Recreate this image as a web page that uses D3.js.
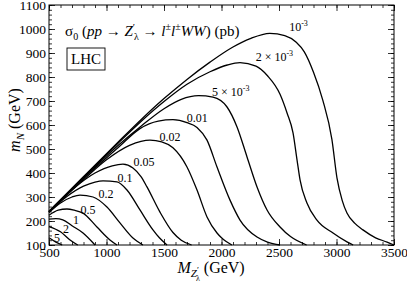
<!DOCTYPE html>
<meta charset="utf-8">
<script src="https://d3js.org/d3.v7.min.js"></script>
<style>
  body { margin: 0; background: #fff; }
</style>
<div id="chart"></div>
<script>

// contour curves, [M_Z' (GeV), m_N (GeV)]
var c0001 = [[500,240],[800,385],[1100,528],[1300,622],[1500,710],[1700,790],[1900,862],[2100,925],[2250,960],[2420,982],[2550,972],[2650,945],[2720,905],[2800,820],[2880,705],[2960,540],[3004,380],[3050,285],[3091,233],[3160,190],[3230,163],[3340,130],[3440,112],[3500,100]];
var c0002 = [[500,240],[800,383],[1100,524],[1300,615],[1500,698],[1700,770],[1900,822],[2050,850],[2161,860],[2300,845],[2400,805],[2509,728],[2570,650],[2622,567],[2657,454],[2683,371],[2743,275],[2830,204],[2970,150],[3091,113],[3145,100]];
var c0005 = [[500,240],[800,380],[1100,515],[1300,595],[1500,668],[1650,707],[1800,722],[1926,716],[2048,675],[2135,592],[2222,467],[2309,342],[2396,246],[2509,175],[2600,135],[2740,100]];
var c001 = [[500,239],[800,378],[1100,505],[1291,585],[1450,616],[1578,622],[1700,610],[1787,590],[1874,537],[1961,425],[2074,287],[2161,204],[2309,133],[2400,112],[2509,100]];
var c002 = [[500,238],[800,372],[1000,455],[1200,515],[1300,532],[1378,537],[1480,530],[1578,505],[1700,425],[1787,329],[1874,217],[1961,150],[2000,130],[2090,100]];
var c005 = [[500,238],[700,330],[900,400],[1050,430],[1143,437],[1230,421],[1300,385],[1352,342],[1465,237],[1578,152],[1650,120],[1740,100]];
var c01 = [[500,237],[650,300],[800,345],[900,362],[970,367],[1091,363],[1178,329],[1291,246],[1404,163],[1460,130],[1526,100]];
var c02 = [[500,235],[600,275],[700,300],[770,308],[883,300],[1004,258],[1117,192],[1230,129],[1317,100]];
var c05 = [[500,224],[580,245],[656,250],[720,245],[796,233],[917,175],[1030,121],[1091,100]];
var c1 = [[500,208],[560,210],[620,205],[700,180],[796,150],[900,100]];
var c2 = [[500,177],[600,155],[680,122],[750,100]];
var c5 = [[500,130],[560,112],[615,100]];

var curves = [c0001, c0002, c0005, c001, c002, c005, c01, c02, c05, c1, c2, c5];

// curve labels: text, exponent, baseline anchor [M, m]
var labelText = ["10", "2 \u00d7 10", "5 \u00d7 10", "0.01", "0.02", "0.05", "0.1", "0.2", "0.5", "1", "2", "5"];
var labelExp = ["-3", "-3", "-3", "", "", "", "", "", "", "", "", ""];
var labelPos = [[2670,990],[2460,865],[2080,722],[1790,612],[1552,533],[1326,429],[1161,362],[996,296],[839,229],[735,187],[648,150],[570,112]];

var xTicks = [500, 1000, 1500, 2000, 2500, 3000, 3500];
var yTicks = [100, 200, 300, 400, 500, 600, 700, 800, 900, 1000, 1100];

var serif = "'Liberation Serif', 'Times New Roman', Times, serif";

var margin = {top: 5, right: 13, bottom: 39, left: 49},
    width = 407 - margin.left - margin.right,
    height = 284 - margin.top - margin.bottom;

var svg = d3.select("#chart")
  .append("svg")
    .attr("width", 407)
    .attr("height", 284)
    .style("font-family", serif)
  .append("g")
    .attr("transform", "translate(" + margin.left + "," + margin.top + ")");

var x = d3.scaleLinear().domain([500, 3500]).range([0, width]);
var y = d3.scaleLinear().domain([100, 1100]).range([height, 0]);

var xMinor = d3.range(500, 3501, 100);
var yMinor = d3.range(100, 1101, 20);

// minor ticks on all sides
svg.append("g").attr("transform", "translate(0," + height + ")")
  .call(d3.axisBottom(x).tickValues(xMinor).tickSize(-3).tickFormat(""));
svg.append("g")
  .call(d3.axisTop(x).tickValues(xMinor).tickSize(-3).tickFormat(""));
svg.append("g")
  .call(d3.axisLeft(y).tickValues(yMinor).tickSize(-3).tickFormat(""));
svg.append("g").attr("transform", "translate(" + width + ",0)")
  .call(d3.axisRight(y).tickValues(yMinor).tickSize(-3).tickFormat(""));

// major ticks
svg.append("g").attr("class", "lab").attr("transform", "translate(0," + height + ")")
  .call(d3.axisBottom(x).tickValues(xTicks).tickSize(-6).tickPadding(2).tickFormat(d3.format("d")));
svg.append("g")
  .call(d3.axisTop(x).tickValues(xTicks).tickSize(-6).tickFormat(""));
svg.append("g").attr("class", "lab")
  .call(d3.axisLeft(y).tickValues(yTicks).tickSize(-6).tickPadding(3).tickFormat(d3.format("d")));
svg.append("g").attr("transform", "translate(" + width + ",0)")
  .call(d3.axisRight(y).tickValues(yTicks).tickSize(-6).tickFormat(""));

svg.selectAll(".domain").remove();
svg.selectAll("g").attr("font-family", serif);
svg.selectAll(".tick line").attr("stroke", "#000").attr("stroke-width", 0.8);
svg.selectAll(".lab .tick text")
  .style("font-family", serif)
  .style("font-size", "13.5px")
  .attr("fill", "#000");

// frame
svg.append("rect")
  .attr("width", width).attr("height", height)
  .attr("fill", "none").attr("stroke", "#000").attr("stroke-width", 1);

// curves
var line = d3.line()
  .x(function(d) { return x(d[0]); })
  .y(function(d) { return y(d[1]); })
  .curve(d3.curveMonotoneX);

svg.append("g")
  .selectAll("path")
  .data(curves)
  .enter()
  .append("path")
    .attr("d", line)
    .attr("fill", "none")
    .attr("stroke", "#000")
    .attr("stroke-width", 1.3);

// curve labels
var lab = svg.append("g")
  .selectAll("text")
  .data(labelText)
  .enter()
  .append("text")
    .attr("x", function(d, i) { return x(labelPos[i][0]); })
    .attr("y", function(d, i) { return y(labelPos[i][1]); })
    .attr("text-anchor", "middle")
    .style("font-family", serif)
    .style("font-size", "12px");
lab.append("tspan").text(function(d) { return d; });
lab.filter(function(d, i) { return labelExp[i] !== ""; })
  .append("tspan")
    .attr("dy", -5)
    .style("font-size", "8px")
    .text("-3");

// title
var title = svg.append("text")
  .attr("x", x(640)).attr("y", 31)
  .style("font-family", serif)
  .style("font-size", "15px");
title.append("tspan").text("\u03c3");
title.append("tspan").attr("dy", 4).style("font-size", "10px").text("0");
title.append("tspan").attr("dy", -4).text(" (");
title.append("tspan").style("font-style", "italic").text("pp");
title.append("tspan").text(" \u2192 ");
title.append("tspan").style("font-style", "italic").text("Z");
title.append("tspan").attr("dy", -5).style("font-size", "10px").text("\u2032");
title.append("tspan").attr("dx", -1).attr("dy", 9).style("font-size", "10px").text("\u03bb");
title.append("tspan").attr("dy", -4).text(" \u2192 ");
title.append("tspan").style("font-style", "italic").text("l");
title.append("tspan").attr("dy", -6).style("font-size", "10px").text("\u00b1");
title.append("tspan").attr("dy", 6).style("font-style", "italic").text("l");
title.append("tspan").attr("dy", -6).style("font-size", "10px").text("\u00b1");
title.append("tspan").attr("dy", 6).style("font-style", "italic").text("WW");
title.append("tspan").text(") (pb)");

// LHC box
svg.append("rect")
  .attr("x", 18).attr("y", 43).attr("width", 38).attr("height", 22)
  .attr("fill", "none").attr("stroke", "#000").attr("stroke-width", 0.9);
svg.append("text")
  .attr("x", 37).attr("y", 59)
  .attr("text-anchor", "middle")
  .style("font-family", serif)
  .style("font-size", "15px")
  .text("LHC");

// x axis label
var xl = svg.append("text")
  .attr("x", width / 2 - 44).attr("y", height + 28)
  .style("font-family", serif)
  .style("font-size", "16px");
xl.append("tspan").style("font-style", "italic").text("M");
xl.append("tspan").attr("dy", 4).style("font-size", "11px").style("font-style", "italic").text("Z");
xl.append("tspan").attr("dy", -4).style("font-size", "9px").text("\u2032");
xl.append("tspan").attr("dx", -3).attr("dy", 8).style("font-size", "8px").text("\u03bb");
xl.append("tspan").attr("dy", -8).text(" (GeV)");

// y axis label
var yl = svg.append("text")
  .attr("transform", "translate(" + (-29) + "," + (height / 2 - 5) + ") rotate(-90)")
  .attr("text-anchor", "middle")
  .style("font-family", serif)
  .style("font-size", "16px");
yl.append("tspan").style("font-style", "italic").text("m");
yl.append("tspan").attr("dy", 4).style("font-size", "11px").style("font-style", "italic").text("N");
yl.append("tspan").attr("dy", -4).text(" (GeV)");

</script>
